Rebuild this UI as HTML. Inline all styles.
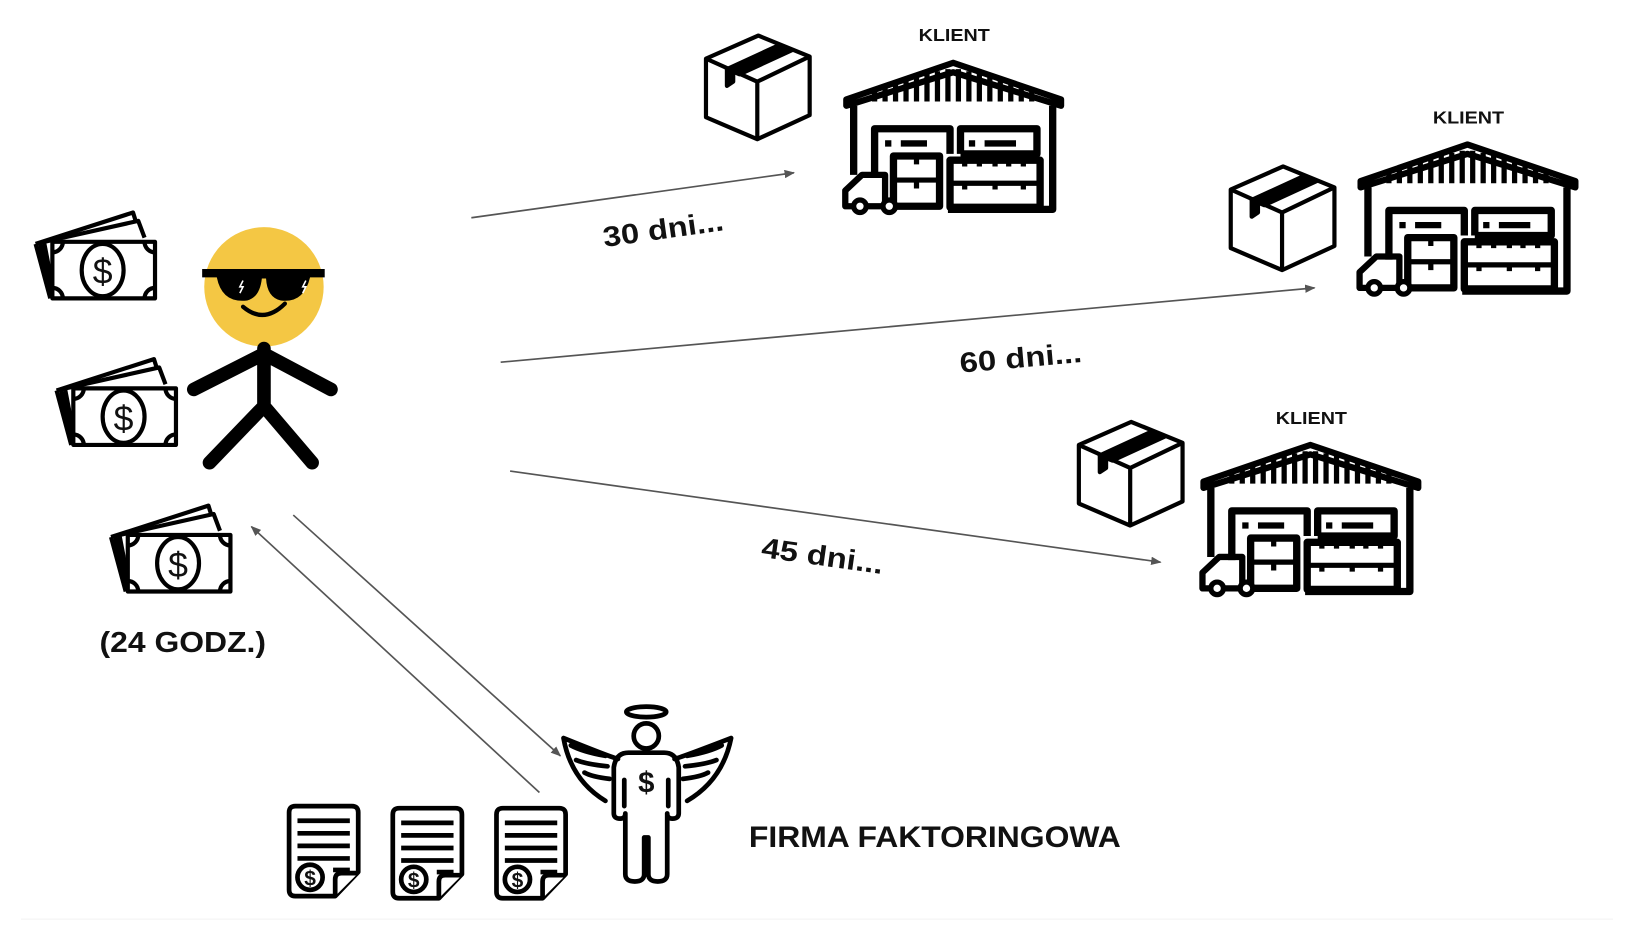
<!DOCTYPE html>
<html><head><meta charset="utf-8"><style>
html,body{margin:0;padding:0;background:#fff;width:1634px;height:938px;overflow:hidden}
svg{display:block}
text{font-family:"Liberation Sans",Arial,sans-serif;font-weight:bold;fill:#111}
</style></head><body>
<svg width="1634" height="938" viewBox="0 0 1560 896" preserveAspectRatio="none" xmlns="http://www.w3.org/2000/svg">
<defs>
<marker id="ah" markerWidth="10" markerHeight="8" refX="9" refY="4" orient="auto" markerUnits="userSpaceOnUse">
<path d="M0,0 L10,4 L0,8 z" fill="#555"/></marker>
<g id="wh" fill="none" stroke="#000" stroke-width="7" stroke-linejoin="round">
<path d="M3,38 L105,3 L208,38 L208,44 L105,12 L3,44 Z" stroke-width="6"/>
<g stroke-width="5">
<path d="M30,40V30 M40,40V26 M50,40V22 M60,40V19 M70,40V16 M80,40V13 M90,40V11 M100,40V9 M110,40V9 M120,40V11 M130,40V13 M140,40V16 M150,40V19 M160,40V22 M170,40V26 M180,40V30"/>
</g>
<path d="M10,44 V110 M200,44 V143 H100"/>
<path d="M30,113 V66 H102 V90 M112,90 V66 H185 V90 H112"/>
<path d="M40,80 h6 M55,80 h25 M120,80 h6 M135,80 h30" stroke-width="6"/>
<rect x="102" y="96" width="86" height="45"/>
<path d="M102,118 h86 M130,96 v6 M158,96 v6 M116,96v6 M145,96v6 M172,96v6 M116,118v6 M145,118v6 M172,118v6" stroke-width="5"/>
<rect x="48" y="92" width="44" height="48"/>
<path d="M48,115 h44 M70,92v8 M70,115v8" stroke-width="5"/>
<path d="M2,140 V125 L18,110 H40 V140 Z" stroke-width="6"/>
<circle cx="16" cy="140" r="6" fill="#fff" stroke-width="5"/>
<circle cx="44" cy="140" r="6" fill="#fff" stroke-width="5"/>
</g>
<g id="box" fill="#fff" stroke="#000" stroke-width="4" stroke-linejoin="round">
<path d="M2,24 L52,2 L101,22 L101,78 L51,101 L2,80 Z"/>
<path d="M2,24 L51,46 L101,22 M51,46 V101"/>
<path d="M22,34 L72,11 L84,16 L34,39 Z" fill="#000"/>
<path d="M22,34 V50 L28,46 V37" fill="#000"/>
</g>
<g id="money" fill="#fff" stroke="#000" stroke-width="4" stroke-linejoin="round">
<path d="M2,30 L95,0 L100,16"/>
<path d="M6,29 L100,8 L106,24"/>
<path d="M2,30 L16,82 M6,29 L18,80 M10,28 L20,80"/>
<rect x="18" y="28" width="98" height="54"/>
<ellipse cx="66" cy="55" rx="20" ry="25"/>
<path d="M18,38 a10,10 0 0 0 10,-10 M106,28 a10,10 0 0 0 10,10 M18,72 a10,10 0 0 1 10,10 M106,82 a10,10 0 0 1 10,-10"/>
<text x="66" y="68" text-anchor="middle" style="font-size:34px;font-weight:normal" stroke="none" fill="#000">$</text>
</g>
<g id="doc" fill="#fff" stroke="#000" stroke-width="4.5" stroke-linejoin="round">
<path d="M8,2 H62 Q68,2 68,8 V65 L46,88 H8 Q2,88 2,82 V8 Q2,2 8,2 Z"/>
<path d="M46,88 V72 Q46,66 52,66 H68" />
<path d="M10,16 H60 M10,28 H60 M10,40 H60 M10,52 H60 M44,63 H60"/>
<circle cx="22" cy="70" r="12"/>
<text x="22" y="78" text-anchor="middle" style="font-size:20px;font-weight:bold" stroke="none" fill="#000">$</text>
</g>
</defs>

<g stroke="#555" stroke-width="1.6" fill="none" marker-end="url(#ah)">
<line x1="450" y1="208" x2="758" y2="165"/>
<line x1="478" y1="346" x2="1255" y2="275"/>
<line x1="487" y1="450" x2="1108" y2="537"/>
<line x1="280" y1="492" x2="535" y2="722"/>
<line x1="515" y1="757" x2="240" y2="503"/>
</g>

<use href="#box" x="672" y="32"/>
<use href="#box" x="1173" y="157"/>
<use href="#box" x="1028" y="401"/>
<use href="#wh" x="805" y="57"/>
<use href="#wh" x="1296" y="135"/>
<use href="#wh" x="1146" y="422"/>
<text x="877" y="39" font-size="17" textLength="68" lengthAdjust="spacingAndGlyphs">KLIENT</text>
<text x="1368" y="118" font-size="17" textLength="68" lengthAdjust="spacingAndGlyphs">KLIENT</text>
<text x="1218" y="405" font-size="17" textLength="68" lengthAdjust="spacingAndGlyphs">KLIENT</text>

<text x="577" y="236" font-size="27" transform="rotate(-8 577 236)" textLength="116" lengthAdjust="spacingAndGlyphs">30 dni...</text>
<text x="917" y="356" font-size="27" transform="rotate(-5 917 356)" textLength="117" lengthAdjust="spacingAndGlyphs">60 dni...</text>
<text x="726" y="532" font-size="27" transform="rotate(8 726 532)" textLength="117" lengthAdjust="spacingAndGlyphs">45 dni...</text>

<use href="#money" x="32" y="203"/>
<use href="#money" x="52" y="343"/>
<use href="#money" x="104" y="483"/>

<circle cx="252" cy="274" r="57" fill="#F4C744"/>
<path d="M193,257 H310 V265 H296 Q290,290 268,287 Q255,284 254,266 H250 Q248,284 236,287 Q212,290 207,265 H193 Z" fill="#000"/>
<path d="M232,268 l-3,6 h3 l-3,6 M292,268 l-3,6 h3 l-3,6" stroke="#fff" stroke-width="1.5" fill="none"/>
<path d="M232,293 Q252,310 272,290" stroke="#000" stroke-width="4" fill="none" stroke-linecap="round"/>
<g stroke="#000" stroke-width="13" stroke-linecap="round" fill="none">
<path d="M252,333 V388 M252,338 L185,372 M252,338 L316,372 M252,388 L200,442 M252,388 L298,442"/>
</g>

<text x="95" y="623" font-size="27" textLength="159" lengthAdjust="spacingAndGlyphs">(24 GODZ.)</text>

<use href="#doc" x="274" y="768"/>
<use href="#doc" x="373" y="770"/>
<use href="#doc" x="472" y="770"/>

<g fill="none" stroke="#000" stroke-width="4.5" stroke-linejoin="round" stroke-linecap="round">
<ellipse cx="617" cy="680" rx="19" ry="5"/>
<circle cx="617" cy="703" r="12"/>
<path d="M590,725 Q580,722 538,705 Q545,745 578,765 M578,722 Q556,718 545,712 M580,732 Q560,730 550,726 M582,744 Q565,742 558,738"/>
<path d="M644,725 Q654,722 698,705 Q690,745 656,765 M656,722 Q678,718 689,712 M654,732 Q674,730 684,726 M652,744 Q669,742 676,738"/>
<path d="M600,719 H634 Q646,719 648,733 V777 Q648,782 642,782 Q637,782 637,777 V835 Q637,842 628,842 Q619,842 619,835 V800 H615 V835 Q615,842 606,842 Q597,842 597,835 V777 Q597,782 592,782 Q586,782 586,777 V733 Q588,719 600,719 Z"/>
<path d="M596,745 V770 M638,745 V770"/>
</g>
<text x="617" y="757" text-anchor="middle" font-size="28">$</text>

<text x="715" y="809" font-size="28" textLength="355" lengthAdjust="spacingAndGlyphs">FIRMA FAKTORINGOWA</text>
<line x1="20" y1="878" x2="1540" y2="878" stroke="#f2f2f2" stroke-width="1"/>
</svg>
</body></html>
